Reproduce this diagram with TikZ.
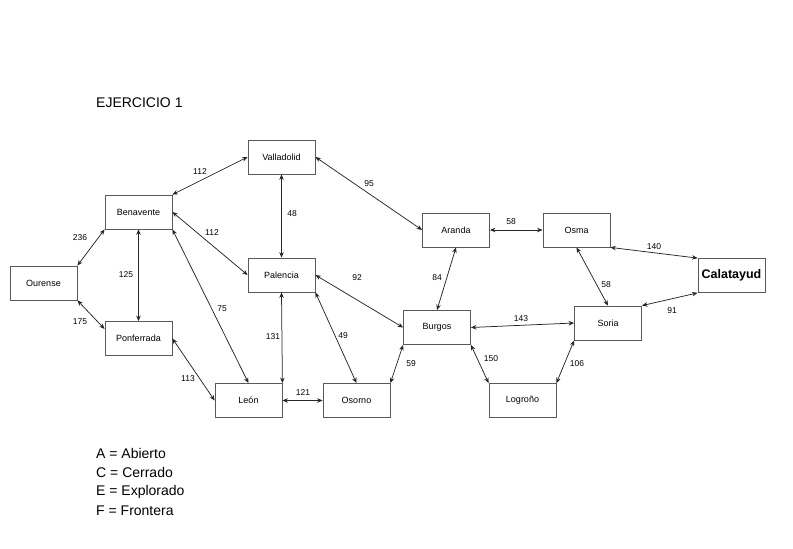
\documentclass[tikz,border=0pt]{standalone}
\usepackage{fontspec}
\setmainfont{Liberation Sans}
\usetikzlibrary{arrows.meta}
\begin{document}
\begin{tikzpicture}[x=1pt,y=-1pt,
  city/.style={draw=black!65,line width=0.8pt,minimum width=67pt,minimum height=34pt,inner sep=0pt,font=\fontsize{9}{10}\selectfont},
  road/.style={draw=black!85,line width=0.75pt,{Stealth[length=5.5pt,width=4.5pt]}-{Stealth[length=5.5pt,width=4.5pt]}},
  dist/.style={font=\fontsize{8.5}{10}\selectfont,inner sep=0pt},
  big/.style={font=\fontsize{14}{16}\selectfont,anchor=west,inner sep=0pt}]
\useasboundingbox (0,0) rectangle (793,549);
% cities
\node[city] (val) at (281.5,157) {Valladolid};
\node[city] (ben) at (138.5,212) {Benavente};
\node[city] (our) at (43.5,283) {Ourense};
\node[city] (pal) at (281.5,275) {Palencia};
\node[city] (pon) at (138.5,338.5) {Ponferrada};
\node[city] (leon) at (248.5,400.5) {León};
\node[city] (oso) at (356.5,400.5) {Osorno};
\node[city] (bur) at (437,327.5) {Burgos};
\node[city] (ara) at (456,230) {Aranda};
\node[city] (osm) at (576.5,230) {Osma};
\node[city,font=\fontsize{12.5}{14}\selectfont\bfseries] (cal) at (731.5,275.5) {Calatayud};
\node[city] (sor) at (608,323) {Soria};
\node[city] (log) at (522.5,400.5) {Logroño};
% roads
\draw[road] (ben.north east) -- (val.west);
\draw[road] (ben.east) -- (pal.west);
\draw[road] (our.north east) -- (ben.south west);
\draw[road] (ben.south) -- (pon.north);
\draw[road] (our.south east) -- ([yshift=9.5pt]pon.west);
\draw[road] (ben.south east) -- (leon.north);
\draw[road] (pon.east) -- (leon.west);
\draw[road] (val.south) -- (pal.north);
\draw[road] (pal.south) -- (leon.north east);
\draw[road] (leon.east) -- (oso.west);
\draw[road] (pal.south east) -- (oso.north);
\draw[road] (pal.east) -- (bur.west);
\draw[road] (val.east) -- (ara.west);
\draw[road] (ara.south) -- (bur.north);
\draw[road] (oso.north east) -- (bur.south west);
\draw[road] (bur.south east) -- (log.north west);
\draw[road] (ara.east) -- (osm.west);
\draw[road] (osm.south east) -- (cal.north west);
\draw[road] (osm.south) -- (sor.north);
\draw[road] (sor.north east) -- (cal.south west);
\draw[road] (bur.east) -- (sor.west);
\draw[road] (sor.south west) -- (log.north east);
% distances
\node[dist] (d1) at (200,172) {112};
\node[dist] (d2) at (212,233) {112};
\node[dist] (d3) at (80,238) {236};
\node[dist] (d4) at (126,275) {125};
\node[dist] (d5) at (80,322) {175};
\node[dist] (d6) at (222,309) {75};
\node[dist] (d7) at (188,379) {113};
\node[dist] (d8) at (292,214) {48};
\node[dist] (d9) at (273,337) {131};
\node[dist] (d10) at (303,393) {121};
\node[dist] (d11) at (343,336) {49};
\node[dist] (d12) at (357,278) {92};
\node[dist] (d13) at (369,184) {95};
\node[dist] (d14) at (437,278) {84};
\node[dist] (d15) at (411,364) {59};
\node[dist] (d16) at (491,359) {150};
\node[dist] (d17) at (511,222) {58};
\node[dist] (d18) at (654,247) {140};
\node[dist] (d19) at (606,285) {58};
\node[dist] (d20) at (672,311) {91};
\node[dist] (d21) at (521,319) {143};
\node[dist] (d22) at (577,364) {106};
% texts
\node[big] (title) at (96,103) {EJERCICIO 1};
\node[big] (la) at (96,453) {A = Abierto};
\node[big] (lc) at (96,472.5) {C = Cerrado};
\node[big] (le) at (96,492) {E = Explorado};
\node[big] (lf) at (96,511) {F = Frontera};
\end{tikzpicture}
\end{document}
